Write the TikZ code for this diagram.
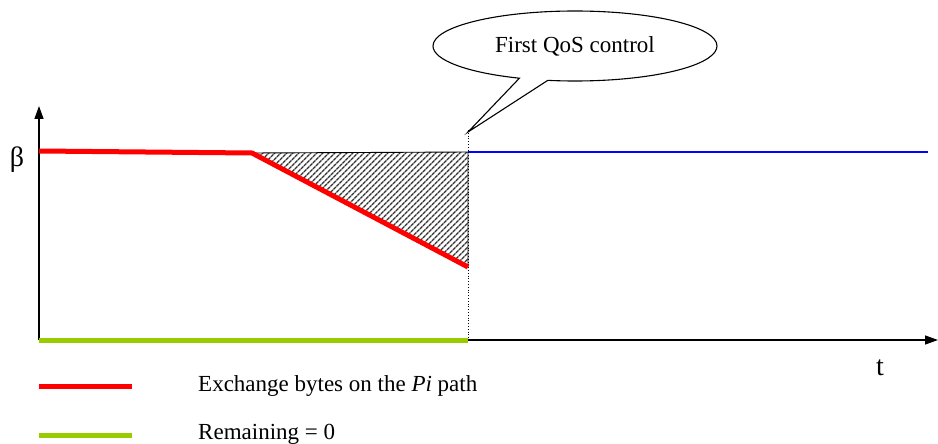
\documentclass[tikz,border=0pt]{standalone}
\usepackage{fontspec}
\setmainfont{Liberation Serif}
\usetikzlibrary{arrows.meta,patterns.meta,shapes.callouts}
\begin{document}
\begin{tikzpicture}[x=1pt,y=-1pt,
  axis/.style={line width=1.4pt,-{Triangle[width=9pt,length=13pt]}},
  redline/.style={draw=red,line width=5pt},
  greenline/.style={draw={rgb,255:red,153;green,204;blue,0},line width=5pt},
  label/.style={font=\fontsize{23}{27}\selectfont,inner sep=0pt,anchor=west},
  axlabel/.style={font=\fontsize{28}{32}\selectfont,inner sep=0pt}]
\useasboundingbox (0,0) rectangle (938,444);

% key points
\coordinate (O) at (39,340);
\coordinate (ytop) at (39,106);
\coordinate (xend) at (938,340);
\coordinate (b0) at (39,151);
\coordinate (b1) at (252,153);
\coordinate (q) at (468,152);
\coordinate (low) at (468,267);
\coordinate (qbot) at (468,340);
\coordinate (qtop) at (468,130);
\coordinate (bend) at (928,152);

% hatched area between the level and the falling curve
\fill[pattern={Lines[angle=45,distance=4pt,line width=1.4pt]},pattern color=black!80]
  (b1) -- (q) -- (low) -- cycle;
\draw[line width=0.9pt] (b1) -- (q) -- (low);

% blue level after the control
\draw[blue,line width=1.1pt] (q) -- (bend);

% dotted marker of the control instant
\draw[dotted,line width=0.8pt] (qtop) -- (qbot);

% axes
\draw[axis] (O) -- (ytop);
\draw[axis] (O) -- (xend);
\node[axlabel] (beta) at (17,160) {β};
\node[axlabel] (tlab) at (880,368) {t};

% exchanged bytes and remaining
\draw[redline] (b0) -- (b1) -- (low);
\draw[greenline] (O) -- (qbot);

% callout
\node[ellipse callout,draw,line width=1.1pt,minimum width=284,minimum height=70,
  callout absolute pointer={(468,132)},callout pointer arc=12,
  font=\fontsize{23}{27}\selectfont] (ctrl) at (575,46) {First QoS control};

% legend
\coordinate (r0) at (39,386);
\coordinate (r1) at (132,386);
\coordinate (g0) at (39,435);
\coordinate (g1) at (132,435);
\draw[redline] (r0) -- (r1);
\draw[greenline] (g0) -- (g1);
\node[label] (lr) at (198,386) {Exchange bytes on the \textit{Pi} path};
\node[label] (lg) at (198,434) {Remaining = 0};
\end{tikzpicture}
\end{document}
